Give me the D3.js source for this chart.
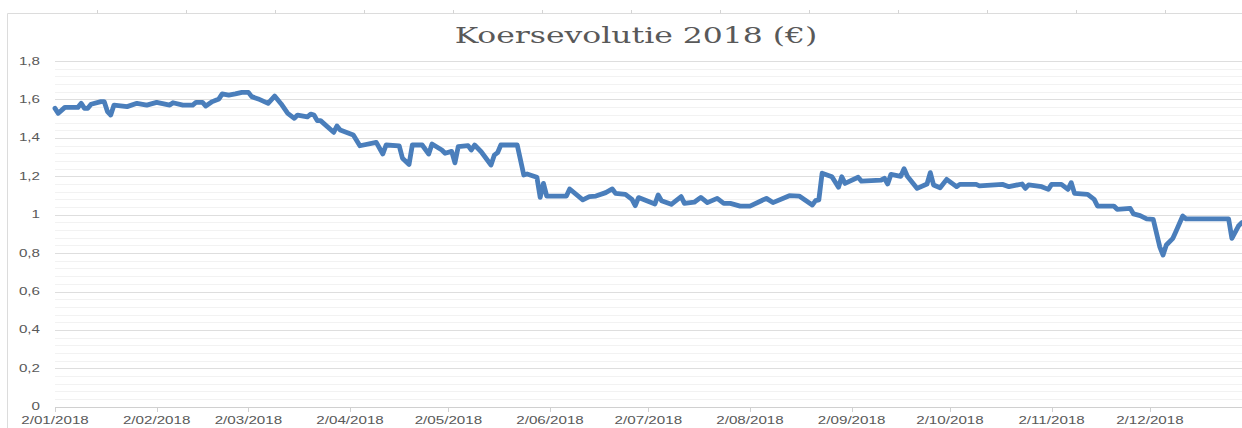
<!DOCTYPE html>
<html>
<head>
<meta charset="utf-8">
<script src="https://cdn.jsdelivr.net/npm/d3@7"></script>
<style>
  html, body { margin: 0; padding: 0; background: #fff; overflow: hidden; }
</style>
</head>
<body>
<div id="chart"></div>
<script>
// koers per handelsdag
const dates = [
  "2018-01-02","2018-01-03","2018-01-05","2018-01-09","2018-01-10","2018-01-11","2018-01-12","2018-01-13",
  "2018-01-16","2018-01-17","2018-01-18","2018-01-19","2018-01-20","2018-01-24","2018-01-27","2018-01-30",
  "2018-02-02","2018-02-06","2018-02-07","2018-02-10","2018-02-13","2018-02-14","2018-02-16","2018-02-17",
  "2018-02-19","2018-02-21","2018-02-22","2018-02-24","2018-02-26","2018-02-28",
  "2018-03-02","2018-03-03","2018-03-05","2018-03-08","2018-03-10","2018-03-12","2018-03-14","2018-03-16",
  "2018-03-17","2018-03-20","2018-03-21","2018-03-22","2018-03-23","2018-03-24","2018-03-28","2018-03-29","2018-03-30",
  "2018-04-03","2018-04-05","2018-04-10","2018-04-12","2018-04-13","2018-04-17","2018-04-18","2018-04-20",
  "2018-04-21","2018-04-24","2018-04-26","2018-04-27","2018-04-30",
  "2018-05-01","2018-05-03","2018-05-04","2018-05-05","2018-05-08","2018-05-09","2018-05-10","2018-05-12",
  "2018-05-15","2018-05-16","2018-05-17","2018-05-18","2018-05-23","2018-05-25","2018-05-26","2018-05-29",
  "2018-05-30","2018-05-31",
  "2018-06-01","2018-06-07","2018-06-08","2018-06-12","2018-06-14","2018-06-16","2018-06-19","2018-06-21",
  "2018-06-22","2018-06-25","2018-06-27","2018-06-28","2018-06-29",
  "2018-07-04","2018-07-05","2018-07-06","2018-07-09","2018-07-12","2018-07-13","2018-07-16","2018-07-18",
  "2018-07-20","2018-07-23","2018-07-25","2018-07-27","2018-07-30",
  "2018-08-02","2018-08-07","2018-08-09","2018-08-14","2018-08-17","2018-08-21","2018-08-22","2018-08-23",
  "2018-08-24","2018-08-27","2018-08-29","2018-08-30","2018-08-31",
  "2018-09-04","2018-09-05","2018-09-11","2018-09-12","2018-09-13","2018-09-14","2018-09-17","2018-09-18",
  "2018-09-19","2018-09-22","2018-09-25","2018-09-26","2018-09-27","2018-09-29",
  "2018-10-01","2018-10-04","2018-10-05","2018-10-10","2018-10-11","2018-10-18","2018-10-20","2018-10-24",
  "2018-10-25","2018-10-26","2018-10-30",
  "2018-11-01","2018-11-02","2018-11-05","2018-11-07","2018-11-08","2018-11-09","2018-11-13","2018-11-15",
  "2018-11-16","2018-11-21","2018-11-22","2018-11-26","2018-11-27","2018-11-29",
  "2018-12-01","2018-12-03","2018-12-05","2018-12-06","2018-12-07","2018-12-09","2018-12-10","2018-12-12",
  "2018-12-13","2018-12-26","2018-12-27","2018-12-29","2018-12-30","2018-12-31"
];

const prices = [
  1.554,1.528,1.559,1.559,1.58,1.554,1.554,1.575,
  1.589,1.589,1.537,1.519,1.571,1.563,1.58,1.571,
  1.585,1.571,1.583,1.571,1.571,1.585,1.585,1.566,
  1.589,1.603,1.629,1.623,1.629,1.637,
  1.637,1.615,1.603,1.58,1.618,1.577,1.528,1.502,
  1.519,1.51,1.524,1.519,1.49,1.49,1.429,1.462,1.441,
  1.415,1.359,1.377,1.316,1.363,1.358,1.294,1.262,
  1.363,1.363,1.316,1.368,1.337,
  1.32,1.33,1.27,1.354,1.36,1.337,1.363,1.328,
  1.259,1.31,1.323,1.363,1.363,1.207,1.212,1.195,
  1.09,1.163,
  1.097,1.097,1.134,1.077,1.094,1.097,1.115,1.134,
  1.111,1.106,1.08,1.047,1.089,
  1.056,1.103,1.073,1.054,1.094,1.059,1.065,1.09,
  1.063,1.085,1.059,1.059,1.045,
  1.045,1.085,1.063,1.099,1.097,1.05,1.073,1.077,
  1.216,1.198,1.143,1.198,1.163,
  1.195,1.175,1.18,1.19,1.16,1.21,1.20,1.24,
  1.20,1.137,1.16,1.219,1.155,1.14,
  1.184,1.146,1.158,1.158,1.15,1.158,1.146,1.16,
  1.137,1.155,1.146,
  1.132,1.158,1.158,1.132,1.167,1.111,1.106,1.08,
  1.045,1.045,1.028,1.033,1.004,0.995,
  0.978,0.976,0.833,0.79,0.842,0.877,0.915,0.993,
  0.978,0.978,0.877,0.941,0.958,0.965
];

const xTickDates = [
  "2018-01-02","2018-02-02","2018-03-02","2018-04-02","2018-05-02","2018-06-02",
  "2018-07-02","2018-08-02","2018-09-02","2018-10-02","2018-11-02","2018-12-02"
];
const yTicks = [0, 0.2, 0.4, 0.6, 0.8, 1, 1.2, 1.4, 1.6, 1.8];

const title = "Koersevolutie 2018 (€)";

const width = 1242;
const height = 428;
const plot = { left: 55, right: 1245, top: 61.1, bottom: 406.7 };
const stretch = 1.38; // the reference is horizontally stretched

const parseDate = d3.timeParse("%Y-%m-%d");
const formatTick = d3.timeFormat("%-d/%m/%Y");
const nl = d3.formatLocale({ decimal: ",", thousands: ".", grouping: [3], currency: ["€", ""] });
const formatY = nl.format(".1~f");

const data = dates.map((d, i) => ({ date: parseDate(d), value: prices[i] }));

const x = d3.scaleTime()
  .domain([parseDate("2018-01-02"), parseDate("2018-12-31")])
  .range([plot.left, plot.right]);

const y = d3.scaleLinear()
  .domain([0, 1.8])
  .range([plot.bottom, plot.top]);

const svg = d3.select("#chart")
  .append("svg")
  .attr("width", width)
  .attr("height", height)
  .style("display", "block")
  .style("background", "#fff");

// spreadsheet frame round the chart
svg.append("line")
  .attr("x1", 7.5).attr("x2", width)
  .attr("y1", 13.5).attr("y2", 13.5)
  .attr("stroke", "#dcdcdc");
svg.append("line")
  .attr("x1", 7.5).attr("x2", 7.5)
  .attr("y1", 13.5).attr("y2", height)
  .attr("stroke", "#dcdcdc");
svg.selectAll(".cell-tick")
  .data(d3.range(97, width, 89))
  .join("line")
  .attr("class", "cell-tick")
  .attr("x1", d => d + 0.5).attr("x2", d => d + 0.5)
  .attr("y1", 10).attr("y2", 13.5)
  .attr("stroke", "#d4d4d4");

// minor gridlines (0,04)
svg.append("g")
  .selectAll("line")
  .data(d3.range(1, 45).filter(i => i % 5 !== 0).map(i => i * 0.04))
  .join("line")
  .attr("x1", plot.left).attr("x2", width)
  .attr("y1", d => Math.round(y(d)) + 0.5)
  .attr("y2", d => Math.round(y(d)) + 0.5)
  .attr("stroke", "#f2f2f2");

// major gridlines
svg.append("g")
  .selectAll("line")
  .data(yTicks)
  .join("line")
  .attr("x1", plot.left).attr("x2", width)
  .attr("y1", d => Math.round(y(d)) + 0.5)
  .attr("y2", d => Math.round(y(d)) + 0.5)
  .attr("stroke", d => d === 0 ? "#d0d0d0" : "#dedede");

// x ticks
svg.append("g")
  .selectAll("line")
  .data(xTickDates.map(parseDate))
  .join("line")
  .attr("x1", d => Math.round(x(d)) + 0.5)
  .attr("x2", d => Math.round(x(d)) + 0.5)
  .attr("y1", Math.round(y(0)))
  .attr("y2", Math.round(y(0)) + 5)
  .attr("stroke", "#d0d0d0");

const labelFont = "'Liberation Sans', Arial, sans-serif";

svg.append("g")
  .selectAll("g")
  .data(xTickDates.map(parseDate))
  .join("g")
  .attr("transform", d => `translate(${x(d)},${424}) scale(${stretch},1)`)
  .append("text")
  .attr("text-anchor", "middle")
  .attr("font-family", labelFont)
  .attr("font-size", "11px")
  .attr("fill", "#595959")
  .text(d => formatTick(d));

svg.append("g")
  .selectAll("g")
  .data(yTicks)
  .join("g")
  .attr("transform", d => `translate(40,${y(d) + 3.5}) scale(${stretch},1)`)
  .append("text")
  .attr("text-anchor", "end")
  .attr("font-family", labelFont)
  .attr("font-size", "11px")
  .attr("fill", "#595959")
  .text(d => formatY(d));

// the price line
const line = d3.line()
  .x(d => x(d.date))
  .y(d => y(d.value));

svg.append("path")
  .datum(data)
  .attr("fill", "none")
  .attr("stroke", "#4a7ebb")
  .attr("stroke-width", 4.8)
  .attr("stroke-linejoin", "round")
  .attr("stroke-linecap", "round")
  .attr("d", line);

// title
svg.append("g")
  .attr("transform", `translate(636,43) scale(1.43,1)`)
  .append("text")
  .attr("text-anchor", "middle")
  .attr("font-family", "'DejaVu Serif', serif")
  .attr("font-size", "22px")
  .attr("fill", "#595959")
  .text(title);
</script>
</body>
</html>
